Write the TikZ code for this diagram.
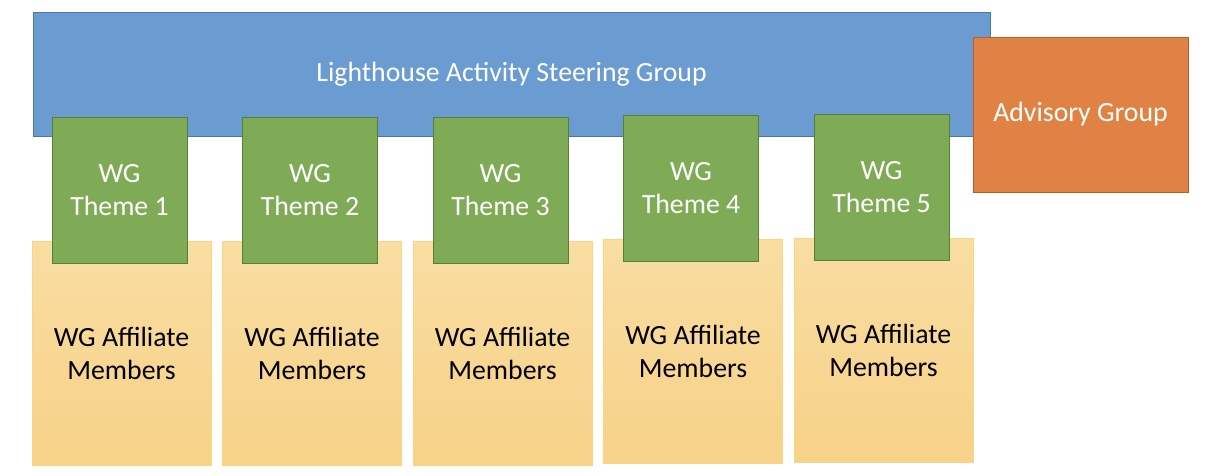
\documentclass[tikz,border=0pt]{standalone}
\usepackage{fontspec}
\setmainfont{Carlito}
\definecolor{steerblue}{RGB}{106,155,209}
\definecolor{steerline}{RGB}{74,118,168}
\definecolor{themegreen}{RGB}{127,171,86}
\definecolor{themeline}{RGB}{86,128,54}
\definecolor{advorange}{RGB}{224,130,67}
\definecolor{advline}{RGB}{178,96,46}
\definecolor{membtop}{RGB}{249,221,162}
\definecolor{membbot}{RGB}{247,210,136}
\definecolor{membline}{RGB}{250,214,130}
\begin{document}
\begin{tikzpicture}[x=1pt, y=-1pt,
    box/.style={rectangle, inner sep=0pt, align=center, line width=1pt, font=\fontsize{27.8}{33}\selectfont},
    steerbox/.style={box, fill=steerblue, draw=steerline, text=white},
    advbox/.style={box, fill=advorange, draw=advline, text=white},
    themebox/.style={box, fill=themegreen, draw=themeline, text=white, minimum width=135pt, minimum height=146pt},
    membbox/.style={box, top color=membtop, bottom color=membbot, draw=membline, text=black, minimum width=179pt, minimum height=224pt}]
    \useasboundingbox (0,0) rectangle (1206,475);
    \node[steerbox, minimum width=957pt, minimum height=124pt] (steer) at (511.5,74) {Lighthouse Activity Steering Group};
    \node[advbox, minimum width=215pt, minimum height=155pt] (advisory) at (1080.5,114.5) {Advisory Group};
    \foreach \i/\dy in {1/0, 2/0, 3/0, 4/-2, 5/-3} {
        \node[membbox] (memb\i) at ({121.5+(\i-1)*190.5}, 353+\dy) {WG Affiliate\\Members};
        \node[themebox] (theme\i) at ({119.5+(\i-1)*190.5}, 190+\dy) {WG\\Theme \i};
    }
\end{tikzpicture}
\end{document}
